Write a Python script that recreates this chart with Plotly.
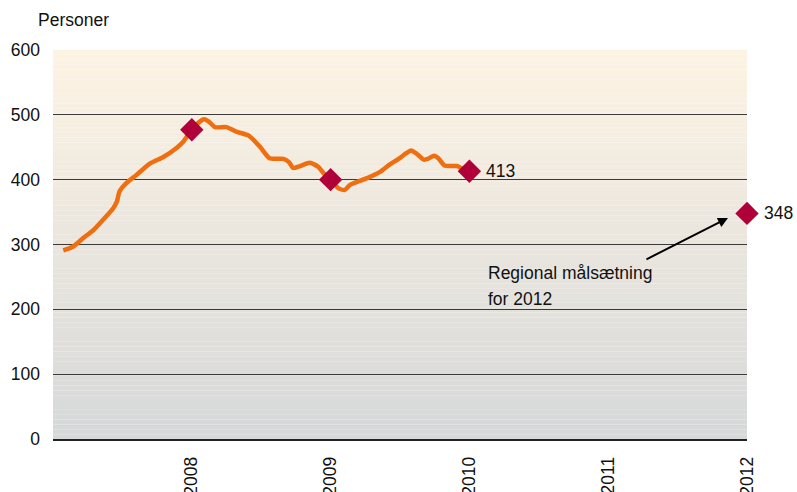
import plotly.graph_objects as go

# Data: time in fractional years, persons
line_x = [2007.074, 2007.146, 2007.218, 2007.29, 2007.36, 2007.434, 2007.46, 2007.48, 2007.53,
          2007.60, 2007.70, 2007.795, 2007.89, 2007.94, 2007.999, 2008.06, 2008.088, 2008.12,
          2008.167, 2008.25, 2008.32, 2008.41, 2008.49, 2008.56, 2008.66, 2008.70, 2008.73,
          2008.78, 2008.85, 2008.91, 2008.95, 2008.996, 2009.055, 2009.10, 2009.14, 2009.21,
          2009.28, 2009.356, 2009.43, 2009.49, 2009.54, 2009.58, 2009.62, 2009.67, 2009.70,
          2009.745, 2009.776, 2009.82, 2009.91, 2009.94, 2009.99]
line_y = [291, 297, 310, 322, 338, 356, 366, 382, 395,
          407, 425, 435, 449, 459, 477, 490, 493, 490,
          481, 481, 474, 468, 451, 433, 432, 427, 418,
          421, 426, 420, 410, 400, 387, 384, 392, 398,
          404, 412, 424, 432, 440, 445, 440, 431, 432,
          437, 433, 422, 421, 418, 413]

marker_x = [2008, 2009, 2010, 2012]
marker_y = [477, 400, 413, 348]
label_years = [2010, 2012]
label_vals = [413, 348]

tick_years = [2008, 2009, 2010, 2011, 2012]
tick_labels = ["2008", "2009", "2010", "2011", "2012"]
y_ticks = [0, 100, 200, 300, 400, 500, 600]

FONT = "Liberation Sans, Arial, sans-serif"
FS = 17.5
TXT = "#111111"

fig = go.Figure()

fig.add_trace(go.Scatter(x=line_x, y=line_y, mode="lines",
                         line=dict(color="#EE6E10", width=4.5, shape="spline", smoothing=0.6),
                         hoverinfo="skip", showlegend=False))
fig.add_trace(go.Scatter(x=marker_x, y=marker_y, mode="markers",
                         marker=dict(symbol="diamond", color="#B0003A", size=18,
                                     line=dict(width=0)),
                         cliponaxis=False, showlegend=False))

# gradient background bands
top = (253, 243, 227)
bot = (214, 216, 217)
n = 80
for i in range(n):
    t = i / (n - 1)
    c = tuple(round(top[k] + (bot[k] - top[k]) * t) for k in range(3))
    fig.add_shape(type="rect", xref="paper", yref="paper",
                  x0=0, x1=1, y0=1 - (i + 1) / n, y1=1 - i / n,
                  fillcolor="rgb(%d,%d,%d)" % c, line=dict(width=0), layer="below")

for xv, yv in zip(label_years, label_vals):
    fig.add_annotation(x=xv, y=yv, text=str(yv), showarrow=False, xanchor="left",
                       xshift=15, font=dict(family=FONT, size=FS, color=TXT))

fig.add_annotation(x=2011.863, y=341, ax=2011.265, ay=276, axref="x", ayref="y",
                   xref="x", yref="y", text="", showarrow=True, arrowhead=2,
                   arrowsize=1, arrowwidth=2, arrowcolor="#000000")
fig.add_annotation(x=2010.12, y=(439 - 273) / 0.648, xref="x", yref="y", xanchor="left",
                   yanchor="middle", text="Regional målsætning", showarrow=False,
                   font=dict(family=FONT, size=FS, color=TXT))
fig.add_annotation(x=2010.12, y=(439 - 299) / 0.648, xref="x", yref="y", xanchor="left",
                   yanchor="middle", text="for 2012", showarrow=False,
                   font=dict(family=FONT, size=FS, color=TXT))
fig.add_annotation(x=-0.024, y=1.077, xref="paper", yref="paper", xanchor="left",
                   yanchor="middle", text="Personer", showarrow=False,
                   font=dict(family=FONT, size=FS, color=TXT))

fig.update_layout(
    width=797, height=492,
    margin=dict(l=53, r=50, t=50, b=53, autoexpand=False),
    paper_bgcolor="white", plot_bgcolor="rgba(0,0,0,0)",
    font=dict(family=FONT, size=FS, color=TXT),
    showlegend=False,
)
fig.update_xaxes(range=[2007, 2012], tickvals=tick_years, ticktext=tick_labels,
                 tickangle=-90, showgrid=False, zeroline=False, showline=True,
                 linecolor="#222222", linewidth=1.5, ticks="", ticklabelstandoff=9,
                 automargin=False,
                 tickfont=dict(family=FONT, size=FS, color=TXT))
fig.update_yaxes(range=[0, 600], tickvals=y_ticks, showgrid=True, gridcolor="#3a3a3a",
                 gridwidth=1, zeroline=True, zerolinecolor="#222222", zerolinewidth=1.5,
                 showline=False, ticks="", ticklabelstandoff=12, automargin=False,
                 tickfont=dict(family=FONT, size=FS, color=TXT))

# remove the page's default 8px body margin so the figure fills the window
fig.write_html("out.html", config={"displayModeBar": False},
               post_script="document.body.style.margin='0';document.body.style.overflow='hidden';")
